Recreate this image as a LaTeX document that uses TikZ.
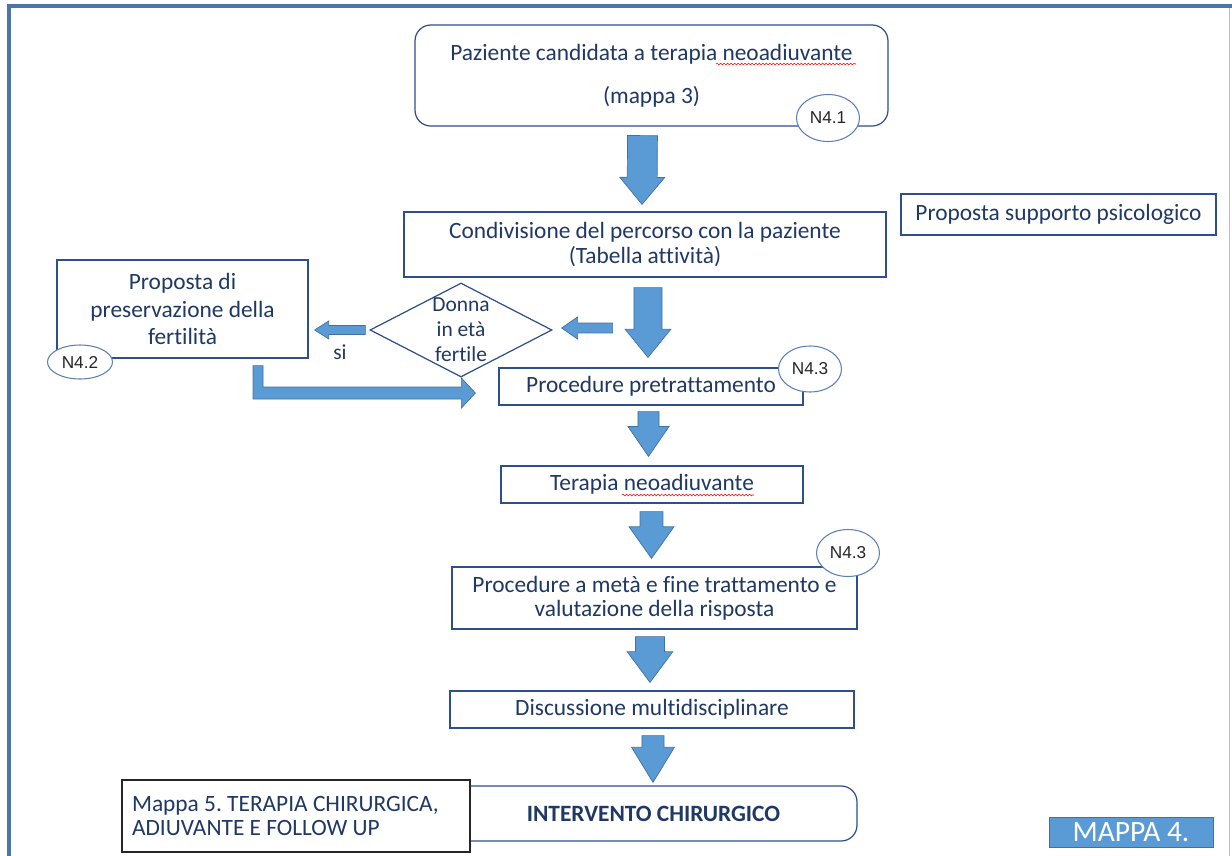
\documentclass[tikz,border=0pt]{standalone}
\usepackage{fontspec}
\setmainfont{Carlito}[Ligatures={NoCommon}]
\newfontfamily\ovalfont{Liberation Sans}
\usetikzlibrary{calc,shapes.geometric,decorations.pathmorphing}
\frenchspacing

\definecolor{navy}{HTML}{1F3864}
\definecolor{boxline}{HTML}{2F4F8A}
\definecolor{arrowblue}{HTML}{5B9BD5}
\definecolor{arrowline}{HTML}{41719C}
\definecolor{framecol}{HTML}{4A76A8}
\definecolor{ovalline}{HTML}{5A80B8}

\tikzset{
  wh/.style 2 args={minimum width=#1*0.02cm, minimum height=#2*0.02cm},
  box/.style={draw=boxline, line width=0.7pt, fill=white, text=navy, align=center,
    inner sep=0pt, font=\fontsize{13.3}{13.7}\selectfont},
  roundbox/.style={box, rounded corners=9pt},
  oval/.style={ellipse, draw=ovalline, line width=0.6pt, fill=white, inner sep=0pt,
    text=black!85, font=\ovalfont\fontsize{9.8}{10}\selectfont},
  decision/.style={diamond, draw=boxline, line width=0.7pt, inner sep=0pt},
  blockarr/.style={fill=arrowblue, draw=arrowline, line width=0.4pt},
  spell/.style={draw=red, line width=0.3pt, decorate,
    decoration={snake, amplitude=0.5pt, segment length=2pt}}
}

% tail, tip, half shaft, half head, head length
\newcommand{\blockarrow}[5]{%
  \path ($(#2)!#5!(#1)$) coordinate (neck);
  \draw[blockarr] ($(#1)!#3!90:(#2)$) -- ($(neck)!#3!90:(#2)$) -- ($(neck)!#4!90:(#2)$) -- (#2)
    -- ($(neck)!#4!-90:(#2)$) -- ($(neck)!#3!-90:(#2)$) -- ($(#1)!#3!-90:(#2)$) -- cycle;
}

\begin{document}
\begin{tikzpicture}[x=0.02cm, y=-0.02cm]
\useasboundingbox (0,0) rectangle (1232,856);

% frame
\draw[framecol, line width=2.3pt] (9,856) -- (9,6) -- (1232,6);
\draw[framecol!45, line width=0.5pt] (1229,8) -- (1229,856);

\node[roundbox, wh={473}{101}, font=\fontsize{13.3}{24.5}\selectfont] (pz) at (651.5,75.5)
  {Paziente candidata a terapia neoadiuvante\\(mappa 3)};
\node[oval, wh={63}{47}] (n41) at (828,118) {N4.1};

\node[box, wh={482}{65}] (cond) at (645,244.5)
  {Condivisione del percorso con la paziente\\(Tabella attività)};
\node[box, wh={315}{41}] (psi) at (1058.5,214.5) {Proposta supporto psicologico};

\node[decision, wh={182}{94}] (donna) at (461,330) {};
\node[text=navy, align=center, inner sep=0pt, font=\fontsize{12.2}{14.2}\selectfont]
  (donnatxt) at (donna.center) {Donna\\in età\\fertile};
\node[text=navy, font=\fontsize{12.2}{14}\selectfont] (si) at (340,352) {si};

\node[box, wh={251}{98}, font=\fontsize{13.3}{15.6}\selectfont] (pres) at (182.5,309)
  {Proposta di\\preservazione della\\fertilità};
\node[oval, wh={65}{34}] (n42) at (80,362) {N4.2};

\node[box, wh={304}{37}] (pre) at (651,386.5) {Procedure pretrattamento};
\node[oval, wh={63}{46}] (n43a) at (810,369) {N4.3};

\node[box, wh={302}{37}] (ter) at (652,484.5) {Terapia neoadiuvante};

\node[box, wh={405}{62}] (proc) at (654.5,598)
  {Procedure a metà e fine trattamento e\\valutazione della risposta};
\node[oval, wh={63}{47}] (n43b) at (848,553) {N4.3};

\node[box, wh={404}{37}] (disc) at (652,709.5) {Discussione multidisciplinare};

\node[roundbox, wh={407}{55}, font=\fontsize{13.3}{13.7}\selectfont\bfseries] (int) at (653.5,813.5)
  {INTERVENTO CHIRURGICO};
\node[box, draw=black!85, line width=1pt, wh={348}{72}, align=flush left, text width=6.56cm,
  font=\fontsize{13.3}{13.7}\selectfont] (m5) at (296,816)
  {Mappa 5. TERAPIA CHIRURGICA,\\ADIUVANTE E FOLLOW UP};

\node[fill=arrowblue, draw=arrowline, line width=0.5pt, inner sep=0pt, wh={164}{30},
  text=white, font=\fontsize{16.8}{18}\selectfont] (mappa4) at (1131,832) {MAPPA 4.};

% spelling marks
\draw[spell] (716,64) -- (856,64);
\draw[spell] (622,495) -- (754,495);

% arrows down the column
\coordinate (a1s) at ($(pz.south)+(-9,9)$);
\coordinate (a1e) at ($(cond.north)+(-3,-7)$);
\coordinate (a2s) at ($(cond.south)+(3,10)$);
\coordinate (a2e) at ($(pre.north)+(-3,-10)$);
\coordinate (a3s) at ($(pre.south)+(-2.5,6)$);
\coordinate (a3e) at ($(ter.north)+(-3.5,-9)$);
\coordinate (a4s) at ($(ter.south)+(-0.5,8)$);
\coordinate (a4e) at ($(proc.north)+(-3,-8)$);
\coordinate (a5s) at ($(proc.south)+(-4.5,7)$);
\coordinate (a5e) at ($(disc.north)+(-2,-8)$);
\coordinate (a6s) at ($(disc.south)+(1,7)$);
\coordinate (a6e) at ($(int.north)+(-0.5,-3)$);

\blockarrow{a1s}{a1e}{8.5pt}{12.8pt}{15.4pt}
\blockarrow{a2s}{a2e}{8pt}{13pt}{16pt}
\blockarrow{a3s}{a3e}{6pt}{11.7pt}{17pt}
\blockarrow{a4s}{a4e}{6.5pt}{12.8pt}{18pt}
\blockarrow{a5s}{a5e}{8.2pt}{13pt}{17.5pt}
\blockarrow{a6s}{a6e}{6.3pt}{12.2pt}{20pt}

% side branch
\coordinate (ds) at ($(donna.east)+(60,-2)$);
\coordinate (de) at ($(donna.east)+(9,-2)$);
\blockarrow{ds}{de}{2.8pt}{6.3pt}{9.1pt}
\coordinate (ps) at ($(donna.west)+(-4,0)$);
\coordinate (pe) at ($(pres.east)+(6,21)$);
\blockarrow{ps}{pe}{2.6pt}{5.1pt}{8pt}

\coordinate (bs) at ($(pres.south)+(75.5,7)$);
\coordinate (bt) at ($(pre.west)+(-23,6.5)$);
\draw[blockarr] ($(bs)+(-5,0)$) -- ($(bs)+(5,0)$) |- ($(bt)+(-14,-6)$) -- ($(bt)+(-14,-15)$)
  -- (bt) -- ($(bt)+(-14,15)$) -- ($(bt)+(-14,6)$) -| ($(bs)+(-5,0)$) -- cycle;

\end{tikzpicture}
\end{document}
